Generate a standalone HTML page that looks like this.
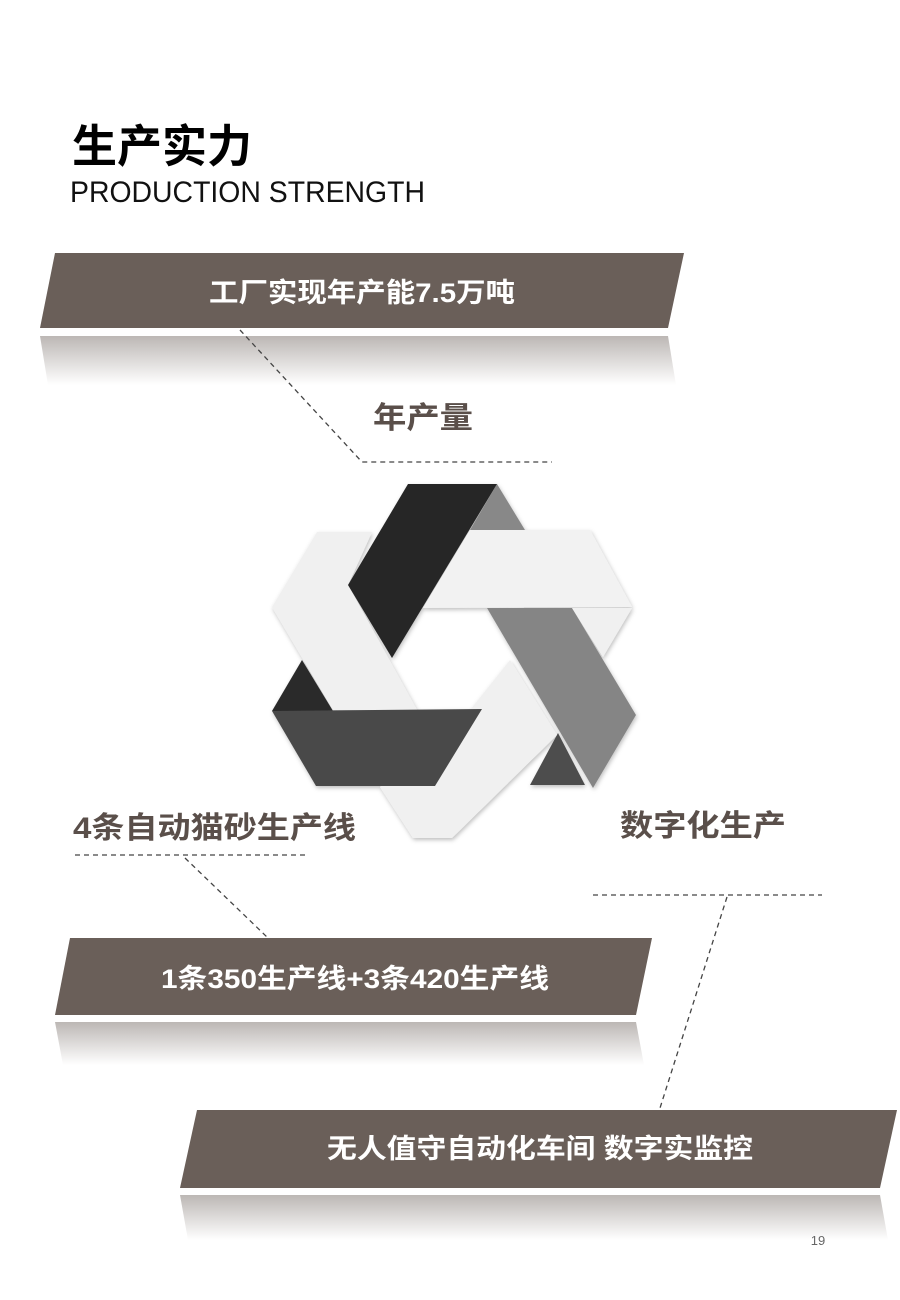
<!DOCTYPE html>
<html><head><meta charset="utf-8"><style>
html,body{margin:0;padding:0;background:#fff;}
svg{display:block;}
text{font-family:"Liberation Sans","Noto Sans CJK SC",sans-serif;}
</style></head><body>
<svg width="900" height="1300" viewBox="0 0 900 1300" xmlns="http://www.w3.org/2000/svg">
<defs>
<linearGradient id="ref" x1="0" y1="0" x2="0" y2="1">
<stop offset="0" stop-color="#6a5f59" stop-opacity="0.45"/>
<stop offset="1" stop-color="#6a5f59" stop-opacity="0"/>
</linearGradient>
<filter id="sh" x="-10%" y="-10%" width="120%" height="120%">
<feDropShadow dx="1" dy="2" stdDeviation="2" flood-color="#000" flood-opacity="0.25"/>
</filter>
</defs>

<text x="72" y="162" font-size="45" font-weight="bold" fill="#000" textLength="180" lengthAdjust="spacingAndGlyphs">生产实力</text>
<text x="70" y="202" font-size="30" fill="#111" textLength="355" lengthAdjust="spacingAndGlyphs">PRODUCTION STRENGTH</text>

<!-- banner 1 -->
<polygon points="40,328 55,253 684,253 668,328" fill="#6a5f59"/>
<polygon points="40,336 668,336 676,385 48,385" fill="url(#ref)"/>
<text x="362" y="302" font-size="27" font-weight="bold" fill="#fff" text-anchor="middle" textLength="306" lengthAdjust="spacingAndGlyphs">工厂实现年产能7.5万吨</text>

<!-- banner 2 -->
<polygon points="55,1015 70,938 652,938 636,1015" fill="#6a5f59"/>
<polygon points="55,1022 636,1022 644,1065 63,1065" fill="url(#ref)"/>
<text x="355" y="988" font-size="27" font-weight="bold" fill="#fff" text-anchor="middle" textLength="388" lengthAdjust="spacingAndGlyphs">1条350生产线+3条420生产线</text>

<!-- banner 3 -->
<polygon points="180,1188 197,1110 897,1110 880,1188" fill="#6a5f59"/>
<polygon points="180,1195 880,1195 888,1240 188,1240" fill="url(#ref)"/>
<text x="540" y="1158" font-size="27" font-weight="bold" fill="#fff" text-anchor="middle" textLength="426" lengthAdjust="spacingAndGlyphs">无人值守自动化车间 数字实监控</text>

<!-- labels -->
<text x="373" y="428" font-size="30" font-weight="bold" fill="#5a4f4a" textLength="100" lengthAdjust="spacingAndGlyphs">年产量</text>
<text x="73" y="838" font-size="30" font-weight="bold" fill="#5a4f4a" textLength="283" lengthAdjust="spacingAndGlyphs">4条自动猫砂生产线</text>
<text x="620" y="836" font-size="30" font-weight="bold" fill="#5a4f4a" textLength="166" lengthAdjust="spacingAndGlyphs">数字化生产</text>

<!-- dashed connectors -->
<g stroke="#444" stroke-width="1.3" stroke-dasharray="5,4" fill="none">
<polyline points="240,330 362,462 552,462"/>
<line x1="75" y1="855" x2="305" y2="855"/>
<line x1="185" y1="858" x2="268" y2="938"/>
<line x1="593" y1="895" x2="822" y2="895"/>
<line x1="727" y1="897" x2="660" y2="1108"/>
</g>

<!-- hexagon knot -->
<g filter="url(#sh)">
<polygon points="497,484 525,530 470,530" fill="#888"/>
<polygon points="317,532 372,532 348,585 417,710 333,710 272,607" fill="#f0f0f0"/>
<polygon points="408,484 497,484 392,658 348,585" fill="#262626"/>
<polygon points="470,530 590,530 632,607 423,608" fill="#f2f2f2"/>
<polygon points="487,608 572,608 636,715 593,788" fill="#858585"/>
<polygon points="572,608 632,608 603,657" fill="#f0f0f0"/>
<polygon points="558,733 585,785 530,785" fill="#4d4d4d"/>
<polygon points="510,660 557,735 452,838 413,838 380,787 470,710" fill="#f0f0f0"/>
<polygon points="302,660 272,711 333,711" fill="#2a2a2a"/>
<polygon points="272,711 482,709 435,786 316,786" fill="#4a4a4a"/>
</g>

<text x="818" y="1245" font-size="13" fill="#666" text-anchor="middle">19</text>
</svg>
</body></html>
